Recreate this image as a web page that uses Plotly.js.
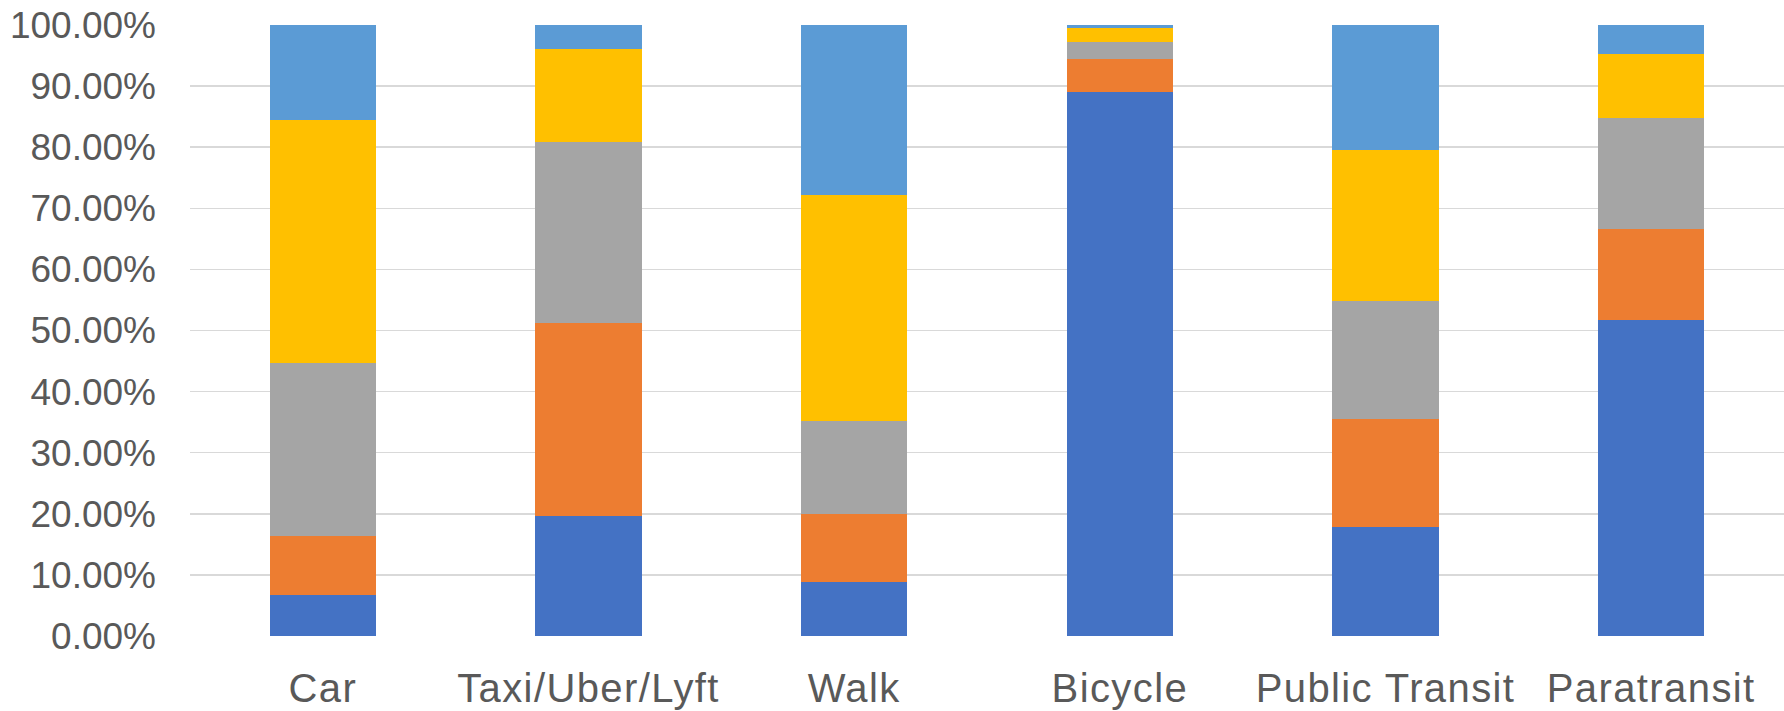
<!DOCTYPE html>
<html>
<head>
<meta charset="utf-8">
<script src="https://cdn.plot.ly/plotly-3.0.1.min.js"></script>
<style>
html,body{margin:0;padding:0;background:#fff;}
#chart{width:1784px;height:711px;}
#chart .xtick text{letter-spacing:1.4px;}
</style>
</head>
<body>
<div id="chart"></div>
<script>
const categories = ["Car", "Taxi/Uber/Lyft", "Walk", "Bicycle", "Public Transit", "Paratransit"];
const series1 = [6.75, 19.6, 8.8, 89.1, 17.9, 51.7];
const series2 = [9.55, 31.6, 11.1, 5.3, 17.6, 14.9];
const series3 = [28.3, 29.7, 15.3, 2.9, 19.3, 18.1];
const series4 = [39.8, 15.2, 36.9, 2.2, 24.8, 10.5];
const series5 = [15.6, 3.9, 27.9, 0.5, 20.4, 4.9];
const seriesNames = ["Series 1", "Series 2", "Series 3", "Series 4", "Series 5"];
const colors = ["#4472C4", "#ED7D31", "#A5A5A5", "#FFC000", "#5B9BD5"];
const yTickVals = [0, 10, 20, 30, 40, 50, 60, 70, 80, 90, 100];

const allSeries = [series1, series2, series3, series4, series5];
const traces = allSeries.map((vals, i) => ({
  type: "bar",
  name: seriesNames[i],
  x: categories,
  y: vals,
  marker: { color: colors[i], line: { width: 0 } }
}));

const layout = {
  width: 1784,
  height: 711,
  barmode: "stack",
  bargap: 0.6,
  showlegend: false,
  paper_bgcolor: "#ffffff",
  plot_bgcolor: "#ffffff",
  margin: { l: 190, r: 0, t: 25, b: 75 },
  font: { family: "Liberation Sans, Arial, sans-serif", color: "#595959" },
  xaxis: {
    type: "category",
    showgrid: false,
    showline: false,
    zeroline: false,
    ticks: "",
    tickfont: { size: 40, color: "#595959" },
    ticklabelstandoff: 25
  },
  yaxis: {
    range: [0, 100],
    tickvals: yTickVals,
    ticktext: yTickVals.map(v => v.toFixed(2) + "%"),
    showgrid: true,
    gridcolor: "#D9D9D9",
    gridwidth: 1.5,
    zeroline: false,
    showline: false,
    ticks: "",
    tickfont: { size: 37, color: "#595959" },
    ticklabelstandoff: 33
  }
};

Plotly.newPlot("chart", traces, layout, { displayModeBar: false, staticPlot: true });
</script>
</body>
</html>
